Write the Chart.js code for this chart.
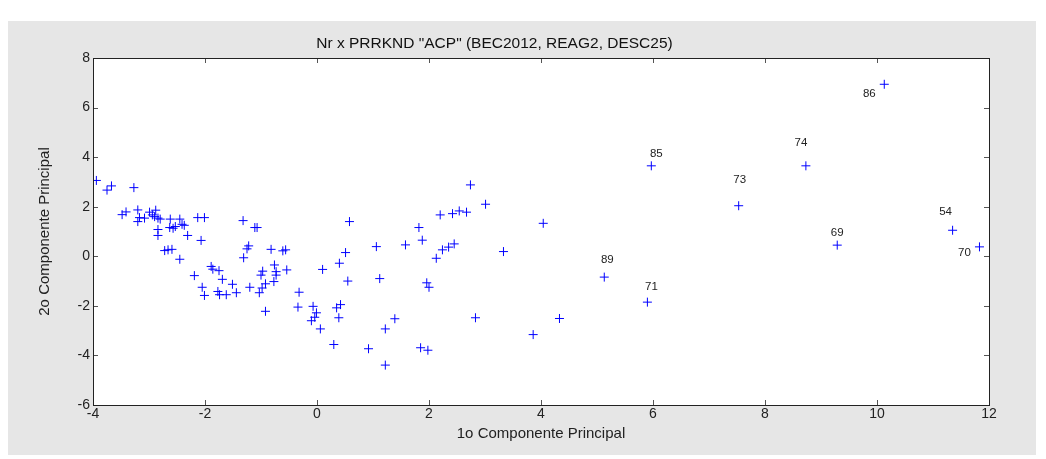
<!DOCTYPE html>
<html>
<head>
<meta charset="utf-8">
<title>Nr x PRRKND ACP</title>
<script src="https://cdn.jsdelivr.net/npm/chart.js@4/dist/chart.umd.min.js"></script>
<style>
  html, body { margin: 0; padding: 0; background: #fff; }
  #acpChart { display: block; }
</style>
</head>
<body>
<canvas id="acpChart" width="1046" height="459"></canvas>
<script>
// PCA scores: 1st principal component (x) vs 2nd principal component (y)
const pc1Scores = [
    -3.94, -3.75, -3.67, -3.27, -3.48, -3.41, -3.20, -3.20, -3.17, -3.08,
    -2.99, -2.94, -2.88, -2.90, -2.84, -2.80, -2.84, -2.84, -2.62, -2.63,
    -2.57, -2.53, -2.45, -2.41, -2.37, -2.31, -2.13, -2.01, -2.07, -2.72,
    -2.66, -2.59, -2.45, -1.32, -1.11, -1.07, -1.22, -1.25, -1.31, -0.82,
    -0.61, -0.56, -2.19, -2.05, -2.01, -1.89, -1.86, -1.75, -1.69, -1.51,
    -1.77, -1.74, -1.62, -1.44, -1.20, -1.03, -0.98, -0.92, -0.92, -0.77,
    -0.76, -0.73, -0.73, -0.54, -1.00, -0.97, -0.32, -0.34, -0.07, -0.01,
    -0.04, -0.10, 0.06, 0.10, 0.40, 0.51, 0.58, 1.06, 1.58, 1.82,
    1.88, 2.13, 2.24, 2.35, 2.45, 2.20, 2.42, 2.54, 2.67, 2.74,
    3.01, 3.33, 4.04, 0.55, 1.12, 1.96, 2.00, 0.42, 0.35, 0.39,
    1.39, 1.22, 0.30, 0.92, 1.22, 1.85, 1.98, 2.83, 3.86, 4.33
];
const pc2Scores = [
    3.06, 2.67, 2.84, 2.77, 1.68, 1.79, 1.87, 1.40, 1.56, 1.54,
    1.78, 1.67, 1.86, 1.60, 1.54, 1.50, 1.08, 0.84, 1.50, 1.16,
    1.13, 1.20, 1.50, 1.29, 1.25, 0.84, 1.56, 1.56, 0.64, 0.23,
    0.26, 0.28, -0.12, 1.44, 1.16, 1.16, 0.42, 0.30, -0.06, 0.28,
    0.22, 0.26, -0.78, -1.25, -1.58, -0.41, -0.52, -0.58, -0.93, -1.13,
    -1.42, -1.55, -1.55, -1.47, -1.25, -1.47, -1.28, -1.11, -2.22, -1.02,
    -0.35, -0.62, -0.76, -0.55, -0.76, -0.60, -1.45, -2.05, -2.02, -2.28,
    -2.46, -2.60, -2.93, -0.53, -0.28, 0.15, 1.40, 0.39, 0.46, 1.16,
    0.65, -0.08, 0.26, 0.37, 0.50, 1.67, 1.72, 1.83, 1.78, 2.88,
    2.10, 0.19, 1.33, -1.00, -0.90, -1.07, -1.25, -1.95, -2.08, -2.48,
    -2.52, -2.93, -3.56, -3.73, -4.39, -3.69, -3.79, -2.48, -3.16, -2.51
];

// Observations identified by number on the plot
const namedIds = ['89', '71', '85', '73', '74', '69', '86', '54', '70'];
const namedPc1 = [5.13, 5.90, 5.97, 7.53, 8.73, 9.29, 10.13, 11.35, 11.83];
const namedPc2 = [-0.84, -1.85, 3.65, 2.04, 3.65, 0.45, 6.94, 1.05, 0.38];

const xTicks = [-4, -2, 0, 2, 4, 6, 8, 10, 12];
const yTicks = [-6, -4, -2, 0, 2, 4, 6, 8];

const titleText = 'Nr x PRRKND "ACP" (BEC2012, REAG2, DESC25)';
const xAxisText = '1o Componente Principal';
const yAxisText = '2o Componente Principal';

// where each id sits relative to its marker (px)
const idOffsets = {
    '89': [3, -17], '71': [4, -15], '85': [5, -12], '73': [1, -26], '74': [-5, -23],
    '69': [0, -12], '86': [-15, 10], '54': [-7, -18], '70': [-15, 6]
};

const FONT = "'Liberation Sans', Arial, sans-serif";
const BLUE = '#0000ff';

function toPoints(xs, ys) {
    return xs.map((x, i) => ({ x: x, y: ys[i] }));
}

// grey figure background + white axes background
const figureBackground = {
    id: 'figureBackground',
    beforeDraw(chart) {
        const ctx = chart.ctx;
        const a = chart.chartArea;
        ctx.save();
        ctx.fillStyle = '#e6e6e6';
        ctx.fillRect(8, 21, 1028, 434);
        ctx.fillStyle = '#ffffff';
        ctx.fillRect(a.left, a.top, a.right - a.left, a.bottom - a.top);
        ctx.restore();
    }
};

// closed box with inward tick marks on all four sides
const boxTicks = {
    id: 'boxTicks',
    afterDraw(chart) {
        const ctx = chart.ctx;
        const a = chart.chartArea;
        const len = 5;
        ctx.save();
        ctx.lineWidth = 1;
        ctx.strokeStyle = '#555';
        ctx.beginPath();
        chart.scales.x.ticks.forEach(t => {
            const px = Math.round(chart.scales.x.getPixelForValue(t.value)) + 0.5;
            ctx.moveTo(px, a.bottom);
            ctx.lineTo(px, a.bottom - len);
            ctx.moveTo(px, a.top);
            ctx.lineTo(px, a.top + len);
        });
        chart.scales.y.ticks.forEach(t => {
            const py = Math.round(chart.scales.y.getPixelForValue(t.value)) + 0.5;
            ctx.moveTo(a.left, py);
            ctx.lineTo(a.left + len, py);
            ctx.moveTo(a.right, py);
            ctx.lineTo(a.right - len, py);
        });
        ctx.stroke();
        ctx.strokeStyle = '#222';
        ctx.strokeRect(Math.round(a.left) + 0.5, Math.round(a.top) + 0.5,
            Math.round(a.right - a.left), Math.round(a.bottom - a.top));
        ctx.restore();
    }
};

// numbers next to the named observations
const pointIds = {
    id: 'pointIds',
    afterDatasetsDraw(chart) {
        const ctx = chart.ctx;
        const meta = chart.getDatasetMeta(1);
        ctx.save();
        ctx.font = '11.5px ' + FONT;
        ctx.fillStyle = '#222';
        ctx.textAlign = 'center';
        ctx.textBaseline = 'middle';
        meta.data.forEach((pt, i) => {
            const id = namedIds[i];
            const off = idOffsets[id] || [0, -14];
            ctx.fillText(id, pt.x + off[0], pt.y + off[1]);
        });
        ctx.restore();
    }
};

const markerStyle = {
    pointStyle: 'cross',
    pointRadius: 4.5,
    pointHoverRadius: 4.5,
    borderColor: BLUE,
    backgroundColor: BLUE,
    pointBorderWidth: 1,
    showLine: false
};

new Chart(document.getElementById('acpChart'), {
    type: 'scatter',
    data: {
        datasets: [
            Object.assign({ label: 'scores', data: toPoints(pc1Scores, pc2Scores) }, markerStyle),
            Object.assign({ label: 'named', data: toPoints(namedPc1, namedPc2) }, markerStyle)
        ]
    },
    options: {
        responsive: false,
        animation: false,
        devicePixelRatio: 1,
        layout: { padding: { left: 0, right: 57, top: 0, bottom: 0 } },
        plugins: {
            legend: { display: false },
            tooltip: { enabled: false },
            title: {
                display: true,
                text: titleText,
                color: '#111',
                font: { family: FONT, size: 15.5, weight: 'normal' },
                padding: { top: 34, bottom: 5.4 }
            }
        },
        scales: {
            x: {
                type: 'linear',
                min: -4,
                max: 12,
                afterBuildTicks: s => { s.ticks = xTicks.map(v => ({ value: v })); },
                afterFit: s => { s.height = 54; },
                grid: { display: false, drawTicks: false },
                border: { display: false },
                ticks: {
                    color: '#222',
                    padding: 1,
                    maxRotation: 0,
                    font: { family: FONT, size: 14 }
                },
                title: {
                    display: true,
                    text: xAxisText,
                    color: '#222',
                    font: { family: FONT, size: 15 },
                    padding: { top: 0, bottom: 16 }
                }
            },
            y: {
                type: 'linear',
                min: -6,
                max: 8,
                afterBuildTicks: s => { s.ticks = yTicks.map(v => ({ value: v })); },
                afterFit: s => { s.width = 93; },
                grid: { display: false, drawTicks: false },
                border: { display: false },
                ticks: {
                    color: '#222',
                    padding: 3,
                    font: { family: FONT, size: 14 }
                },
                title: {
                    display: true,
                    text: yAxisText,
                    color: '#222',
                    font: { family: FONT, size: 15 },
                    padding: { top: 36, bottom: 0 }
                }
            }
        }
    },
    plugins: [figureBackground, boxTicks, pointIds]
});
</script>
</body>
</html>
